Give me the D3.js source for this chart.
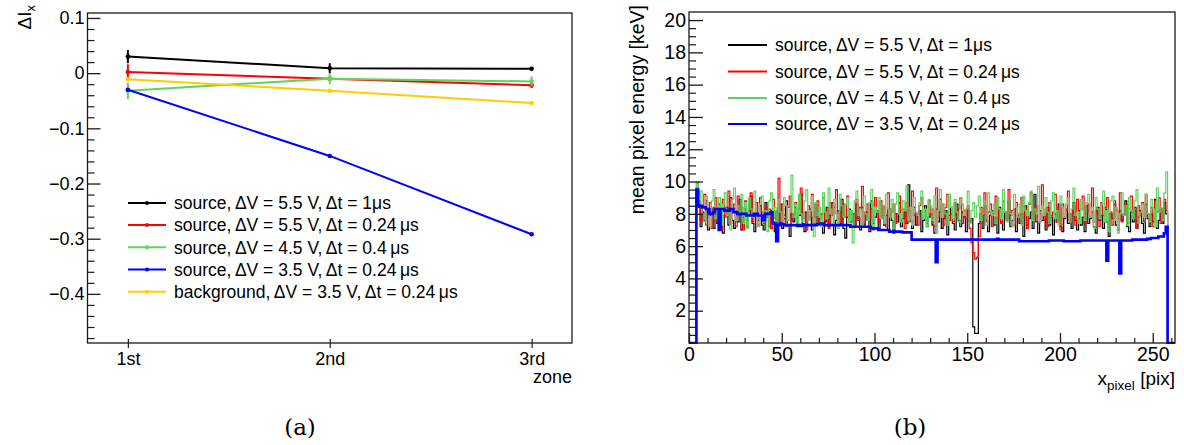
<!DOCTYPE html>
<html><head><meta charset="utf-8">
<script src="https://cdn.jsdelivr.net/npm/d3@7"></script>
<style>
html,body{margin:0;padding:0;background:#fff;}
svg text{font-family:"Liberation Sans",Arial,Helvetica,sans-serif;fill:#000;}
</style></head>
<body><svg id="c" width="1184" height="445"></svg>
<script>
// ---------- Panel (a) data ----------
const zones = ["1st", "2nd", "3rd"];
const zoneX = [1, 2, 3];
const legendA = [
  "source,\u2009\u0394V = 5.5 V,\u2009\u0394t = 1\u03bcs",
  "source,\u2009\u0394V = 5.5 V,\u2009\u0394t = 0.24\u2009\u03bcs",
  "source,\u2009\u0394V = 4.5 V,\u2009\u0394t = 0.4\u2009\u03bcs",
  "source,\u2009\u0394V = 3.5 V,\u2009\u0394t = 0.24\u2009\u03bcs",
  "background,\u2009\u0394V = 3.5 V,\u2009\u0394t = 0.24\u2009\u03bcs"
];
const colorsA = ["#000000", "#ff0000", "#5fd35f", "#0000ff", "#ffcc00"];
const dI_55_1 = [0.030, 0.009, 0.008];
const dI_55_1_err = [0.012, 0.009, 0.003];
const dI_55_024 = [0.002, -0.010, -0.022];
const dI_55_024_err = [0.014, 0.003, 0.005];
const dI_45_04 = [-0.032, -0.010, -0.015];
const dI_45_04_err = [0.015, 0.010, 0.009];
const dI_35_024 = [-0.030, -0.150, -0.292];
const dI_35_024_err = [0.002, 0.001, 0.001];
const dI_bkg = [-0.011, -0.032, -0.054];
const dI_bkg_err = [0.002, 0.001, 0.001];
const yTicksA = [-0.4, -0.3, -0.2, -0.1, 0, 0.1];

// ---------- Panel (b) data ----------
const legendB = [
  "source,\u2009\u0394V = 5.5 V,\u2009\u0394t = 1\u03bcs",
  "source,\u2009\u0394V = 5.5 V,\u2009\u0394t = 0.24\u2009\u03bcs",
  "source,\u2009\u0394V = 4.5 V,\u2009\u0394t = 0.4\u2009\u03bcs",
  "source,\u2009\u0394V = 3.5 V,\u2009\u0394t = 0.24\u2009\u03bcs"
];
const colorsB = ["#000000", "#ff0000", "#5fd35f", "#0000ff"];
const firstBin = 4;     // first filled pixel column
const xMaxB = 262;
const xTicksB = [0, 50, 100, 150, 200, 250];
const yTicksB = [2, 4, 6, 8, 10, 12, 14, 16, 18, 20];
const E_55_1 = [
9.6,8.4,7.2,8.1,7.6,8.8,7.0,7.9,8.3,7.1,
8.0,7.4,8.6,7.2,6.8,7.9,8.4,7.3,9.0,7.6,
7.1,8.2,7.5,8.9,7.0,7.8,8.3,7.2,7.9,9.1,
7.4,6.9,8.0,7.6,8.5,7.3,7.0,8.7,7.8,7.2,
8.2,7.5,6.9,8.1,7.4,8.6,7.1,7.7,8.8,7.3,
6.6,8.0,7.5,8.4,7.2,7.9,9.2,7.4,6.9,8.1,
7.6,8.3,7.0,7.8,8.6,7.3,7.7,8.0,6.8,7.5,
8.4,7.2,7.9,8.7,6.7,7.6,8.2,7.4,8.9,7.1,
6.5,7.8,8.3,7.5,8.0,7.2,8.6,7.7,7.0,8.4,
7.3,8.1,7.6,6.9,8.8,7.4,7.8,8.2,7.1,7.7,
8.5,7.3,7.9,7.0,8.3,7.6,6.8,8.0,7.5,8.7,
7.2,7.7,8.1,7.4,9.8,7.6,7.1,8.4,7.3,7.9,
8.2,6.9,7.6,8.5,7.2,7.8,8.0,7.3,6.8,8.3,
7.5,8.9,7.1,7.7,8.2,6.7,7.9,8.4,7.4,7.0,
8.6,7.6,7.2,8.1,7.8,6.9,8.3,7.5,7.7,1.0,
0.6,0.6,7.4,8.0,7.1,8.5,7.6,6.9,7.9,8.2,
7.3,7.8,6.8,8.4,7.5,7.0,8.1,7.7,8.8,7.2,
7.6,8.3,6.9,7.9,7.4,8.0,6.6,8.5,7.3,7.7,
8.1,7.1,9.2,7.5,6.8,8.2,7.6,7.9,7.0,8.4,
7.3,7.8,6.7,8.0,7.5,8.6,7.2,6.9,7.7,8.3,
7.4,8.0,7.1,8.7,7.6,7.0,8.2,7.3,7.8,6.9,
8.5,7.4,7.7,8.1,7.2,6.8,8.4,7.6,7.9,7.1,
8.3,7.5,6.6,8.0,7.7,8.6,7.3,7.0,8.2,7.6,
7.9,8.8,7.2,6.9,8.1,7.5,8.4,7.1,7.8,8.2,
7.4,6.8,8.6,7.7,7.2,8.0,7.5,8.9,7.1,7.6,
8.3,7.4,8.7,8.0];
const E_55_024 = [
9.9,8.8,7.6,8.5,9.2,7.3,8.0,8.7,7.1,8.4,
9.0,7.5,8.2,7.0,8.9,7.8,8.3,9.4,7.4,8.1,
8.6,7.2,9.1,7.9,8.4,7.0,8.8,7.6,8.2,9.3,
7.5,8.0,8.7,7.3,9.0,8.1,7.4,8.5,7.8,8.3,
7.1,8.9,7.7,8.2,10.2,7.5,8.6,7.9,7.2,8.4,
9.1,7.6,8.0,8.7,7.3,8.3,9.6,7.7,8.1,7.0,
8.5,7.8,9.2,7.4,8.2,8.8,7.5,8.0,9.0,7.6,
8.3,7.1,8.7,7.9,8.4,9.5,7.7,8.1,7.3,8.6,
7.8,9.1,7.5,8.2,8.0,7.2,8.9,7.6,8.4,9.7,
7.4,8.1,8.6,7.7,8.3,7.0,9.0,8.2,7.5,8.8,
7.9,8.4,7.2,9.3,7.8,8.1,8.6,7.4,8.0,9.1,
7.6,8.3,7.1,8.7,8.2,7.5,9.4,7.9,8.0,7.3,
8.5,9.0,7.7,8.2,7.4,8.8,7.9,8.3,7.2,9.6,
7.8,8.1,8.6,7.3,8.4,9.2,7.6,8.0,7.5,8.7,
7.9,8.3,9.0,7.4,8.2,7.7,8.5,7.1,6.2,5.6,
5.2,5.3,6.6,8.4,7.9,9.3,7.5,8.1,8.6,7.2,
8.0,9.1,7.7,8.3,7.4,8.8,8.1,7.6,9.5,7.9,
8.2,7.3,8.7,8.0,7.5,9.0,7.8,8.4,7.1,8.6,
9.3,7.7,8.2,8.5,7.4,8.0,9.8,7.6,8.3,7.2,
8.7,7.9,8.1,9.2,7.5,8.4,7.0,8.6,7.8,8.2,
9.4,7.6,8.0,8.5,7.3,8.9,7.7,8.3,9.1,7.4,
8.1,8.6,7.8,9.6,7.5,8.2,8.0,7.2,8.7,7.9,
8.4,9.0,7.6,8.1,7.3,8.8,8.2,7.7,9.3,7.5,
8.0,8.6,7.4,8.3,9.1,7.8,8.2,7.1,8.5,7.9,
8.7,7.5,9.2,8.0,7.6,8.4,7.2,8.8,8.1,9.0,
7.4,8.3,8.9,8.2];
const E_45_04 = [
10.0,8.7,9.4,8.0,7.5,9.1,8.3,7.2,8.8,9.5,
7.7,8.4,9.0,7.3,8.6,9.3,7.9,8.2,7.0,8.9,
9.6,7.6,8.5,8.1,9.2,7.4,8.7,7.1,9.0,8.3,
7.8,9.4,8.0,7.2,8.6,9.1,7.5,8.2,6.9,8.8,
9.3,7.7,8.4,7.0,8.9,8.1,7.4,9.0,8.5,7.6,
8.3,10.4,7.8,8.6,7.3,9.2,8.0,7.5,8.8,9.5,
7.6,8.2,9.1,6.6,8.7,7.9,8.4,7.2,9.3,8.1,
7.7,9.6,8.3,7.4,8.9,8.0,7.1,9.2,8.5,7.8,
8.6,9.0,7.5,8.2,6.2,8.8,9.4,7.9,8.3,7.3,
9.1,8.0,7.6,8.7,9.5,7.2,8.4,8.1,9.0,7.7,
8.5,7.4,9.2,8.3,7.8,8.9,7.1,8.6,9.3,8.0,
7.5,8.8,8.2,9.7,7.6,8.4,7.3,9.0,8.1,7.9,
8.7,9.4,7.7,8.3,7.2,8.9,8.5,7.6,9.1,6.8,
8.2,9.5,7.8,8.6,8.0,7.3,9.2,8.4,7.7,8.9,
8.1,7.5,9.0,8.6,7.9,8.3,9.4,7.4,8.2,8.7,
7.8,8.5,9.1,7.6,8.0,8.8,7.3,9.3,8.2,7.9,
8.6,7.4,9.0,8.3,7.7,9.5,8.1,7.5,8.8,8.0,
7.2,9.2,8.4,7.8,8.6,7.3,9.1,8.2,7.9,8.7,
9.4,7.6,8.3,8.0,9.7,7.5,8.5,7.9,9.0,8.1,
7.4,8.8,9.3,7.7,8.2,7.3,9.1,8.4,7.8,8.6,
9.0,7.5,8.3,9.6,7.9,8.1,7.4,8.9,8.2,7.6,
8.7,9.2,7.8,8.4,7.1,9.0,8.3,7.7,8.6,9.4,
7.5,8.2,6.9,8.8,9.1,7.6,8.4,6.8,8.0,9.3,
7.9,8.5,7.3,9.0,8.2,7.7,8.8,9.5,7.4,8.1,
8.6,7.8,9.2,8.0,7.5,8.9,8.3,7.2,9.6,8.1,
8.4,7.6,9.3,10.6];
const E_35_024 = [
9.5,8.5,8.5,8.4,8.4,8.3,8.3,8.0,8.0,8.1,
8.3,8.3,7.0,8.3,8.3,8.2,8.2,8.2,8.3,8.3,
8.1,8.1,8.0,8.0,8.0,8.0,8.0,7.9,7.9,7.9,
7.9,8.0,8.0,7.9,7.9,7.9,7.6,8.0,8.0,8.0,
8.1,7.4,7.4,6.3,7.3,7.4,7.35,7.3,7.3,7.3,
7.3,7.3,7.3,7.3,7.3,7.3,7.25,7.3,7.3,7.3,
7.3,7.3,7.3,7.3,7.3,7.35,7.35,7.4,7.35,7.3,
7.3,7.3,7.3,7.3,7.3,7.3,7.3,7.3,7.3,7.3,
7.3,7.3,7.3,7.2,7.2,7.2,7.2,7.2,7.2,7.2,
7.2,7.2,7.2,7.2,7.1,7.1,7.1,7.1,7.0,7.0,
7.0,7.0,7.0,7.0,6.9,6.9,6.9,6.9,6.9,6.9,
6.9,6.85,6.85,6.85,6.85,6.85,6.4,6.4,6.4,6.4,
6.4,6.4,6.4,6.4,6.4,6.4,6.4,6.4,6.4,5.0,
6.4,6.4,6.4,6.4,6.4,6.4,6.4,6.4,6.4,6.4,
6.4,6.4,6.4,6.4,6.4,6.4,6.4,6.4,6.4,6.4,
6.4,6.4,6.4,6.4,6.4,6.4,6.4,6.4,6.4,6.4,
6.4,6.4,6.45,6.4,6.4,6.4,6.4,6.4,6.4,6.4,
6.4,6.4,6.4,6.4,6.3,6.3,6.3,6.3,6.3,6.3,
6.3,6.3,6.3,6.3,6.3,6.3,6.3,6.3,6.3,6.3,
6.35,6.35,6.35,6.35,6.35,6.35,6.35,6.35,6.3,6.3,
6.3,6.3,6.3,6.3,6.3,6.3,6.3,6.35,6.35,6.35,
6.35,6.35,6.35,6.35,6.35,6.35,6.35,6.35,6.35,6.35,
6.35,5.1,6.35,6.35,6.35,6.35,6.35,6.35,4.3,6.35,
6.35,6.35,6.35,6.35,6.35,6.4,6.4,6.4,6.4,6.4,
6.4,6.4,6.4,6.45,6.45,6.5,6.5,6.5,6.5,6.6,
6.6,6.6,6.8,7.2];

// ---------- drawing ----------
const svg = d3.select("#c");
const FRAME = "#1a1a1a";
const SANS = "Liberation Sans, Arial, sans-serif";

// ===== Panel (a) =====
const A = {x0: 87.5, x1: 572, y0: 13, y1: 343};
const xA = d3.scaleLinear().domain([0.8, 3.2]).range([A.x0, A.x1]);
const yA = d3.scaleLinear().domain([-0.489, 0.109]).range([A.y1, A.y0]);
const gA = svg.append("g");

gA.append("rect").attr("x", A.x0).attr("y", A.y0).attr("width", A.x1 - A.x0).attr("height", A.y1 - A.y0)
  .attr("fill", "none").attr("stroke", FRAME).attr("stroke-width", 1.3);

const minorA = d3.range(-0.48, 0.1001, 0.02).filter(v => Math.abs(v * 10 - Math.round(v * 10)) > 1e-6);
gA.append("g").attr("transform", `translate(${A.x0},0)`)
  .call(d3.axisLeft(yA).tickValues(minorA).tickSize(-7).tickFormat(""))
  .call(g => { g.select(".domain").remove(); g.selectAll("line").attr("stroke", FRAME).attr("stroke-width", 1.2); });
const fmtA = v => Math.abs(v) < 1e-9 ? "0" : d3.format(".1f")(v);
gA.append("g").attr("transform", `translate(${A.x0},0)`)
  .call(d3.axisLeft(yA).tickValues(yTicksA).tickSize(-13).tickPadding(3).tickFormat(fmtA))
  .call(g => {
    g.select(".domain").remove();
    g.selectAll("line").attr("stroke", FRAME).attr("stroke-width", 1.3);
    g.selectAll("text").attr("font-size", 18).attr("font-family", SANS).attr("fill", "#000");
  });
gA.append("g").attr("transform", `translate(0,${A.y1})`)
  .call(d3.axisBottom(xA).tickValues(zoneX).tickSize(0).tickPadding(9).tickFormat((d, i) => zones[i]))
  .call(g => {
    g.select(".domain").remove();
    g.selectAll("text").attr("font-size", 18).attr("font-family", SANS).attr("fill", "#000");
    g.selectAll(".tick").append("line").attr("y1", -4).attr("y2", 5).attr("stroke", FRAME).attr("stroke-width", 1.2);
  });
gA.append("text").attr("x", A.x1).attr("y", 383).attr("text-anchor", "end").attr("font-size", 18).text("zone");
const ytA = gA.append("text").attr("transform", "translate(31,5) rotate(-90)").attr("text-anchor", "end").attr("font-size", 19);
ytA.append("tspan").text("\u0394I");
ytA.append("tspan").attr("font-size", 13).attr("dy", 4).text("x");

const seriesA = [
  {v: dI_55_1, e: dI_55_1_err},
  {v: dI_55_024, e: dI_55_024_err},
  {v: dI_45_04, e: dI_45_04_err},
  {v: dI_35_024, e: dI_35_024_err},
  {v: dI_bkg, e: dI_bkg_err}
];
const lineA = d3.line().x((d, i) => xA(zoneX[i])).y(d => yA(d));
seriesA.forEach((s, k) => {
  const c = colorsA[k];
  gA.append("path").attr("d", lineA(s.v)).attr("fill", "none").attr("stroke", c).attr("stroke-width", 2);
  s.v.forEach((v, i) => {
    gA.append("line").attr("x1", xA(zoneX[i])).attr("x2", xA(zoneX[i]))
      .attr("y1", yA(v - s.e[i])).attr("y2", yA(v + s.e[i])).attr("stroke", c).attr("stroke-width", 2);
    gA.append("circle").attr("cx", xA(zoneX[i])).attr("cy", yA(v)).attr("r", 2.3).attr("fill", c);
  });
});
const legAy = [203, 225, 247.3, 269.5, 291.7];
legendA.forEach((t, k) => {
  const y = legAy[k];
  gA.append("line").attr("x1", 128).attr("x2", 166).attr("y1", y).attr("y2", y).attr("stroke", colorsA[k]).attr("stroke-width", 2);
  gA.append("circle").attr("cx", 147).attr("cy", y).attr("r", 2).attr("fill", colorsA[k]);
  gA.append("text").attr("x", 174).attr("y", y + 6.3).attr("font-size", 17.5).text(t);
});
svg.append("text").attr("x", 300).attr("y", 435).attr("text-anchor", "middle")
  .attr("font-size", 23).style("font-family", "'DejaVu Serif','Liberation Serif',serif").text("(a)");

// ===== Panel (b) =====
const B = {x0: 689, x1: 1175, y0: 12, y1: 343};
const xB = d3.scaleLinear().domain([0, xMaxB]).range([B.x0, B.x1]);
const yB = d3.scaleLinear().domain([0, 20.5]).range([B.y1, B.y0]);
const gB = svg.append("g");
const clip = svg.append("defs").append("clipPath").attr("id", "clipB");
clip.append("rect").attr("x", B.x0).attr("y", B.y0).attr("width", B.x1 - B.x0).attr("height", B.y1 - B.y0 + 1);

function histPath(vals) {
  let d = `M${xB(0)},${yB(0)}H${xB(firstBin)}`;
  vals.forEach((v, i) => { d += `V${yB(v)}H${xB(firstBin + i + 1)}`; });
  d += `V${yB(0)}H${xB(xMaxB)}`;
  return d;
}
const seriesB = [E_55_1, E_55_024, E_45_04, E_35_024];
const widthsB = [1.2, 1.2, 1.2, 2.6];
const gH = gB.append("g").attr("clip-path", "url(#clipB)");
seriesB.forEach((s, k) => {
  gH.append("path").attr("d", histPath(s)).attr("fill", "none").attr("stroke", colorsB[k])
    .attr("stroke-width", widthsB[k]).attr("stroke-linejoin", "miter");
});

gB.append("rect").attr("x", B.x0).attr("y", B.y0).attr("width", B.x1 - B.x0).attr("height", B.y1 - B.y0)
  .attr("fill", "none").attr("stroke", FRAME).attr("stroke-width", 1.3);

const minorBy = d3.range(0.5, 20.5, 0.5).filter(v => v % 2 !== 0);
gB.append("g").attr("transform", `translate(${B.x0},0)`)
  .call(d3.axisLeft(yB).tickValues(minorBy).tickSize(-7).tickFormat(""))
  .call(g => { g.select(".domain").remove(); g.selectAll("line").attr("stroke", FRAME).attr("stroke-width", 1.2); });
gB.append("g").attr("transform", `translate(${B.x0},0)`)
  .call(d3.axisLeft(yB).tickValues(yTicksB).tickSize(-14).tickPadding(3))
  .call(g => {
    g.select(".domain").remove();
    g.selectAll("line").attr("stroke", FRAME).attr("stroke-width", 1.3);
    g.selectAll("text").attr("font-size", 19.5).attr("font-family", SANS).attr("fill", "#000");
  });
const minorBx = d3.range(10, 262, 10).filter(v => v % 50 !== 0);
gB.append("g").attr("transform", `translate(0,${B.y1})`)
  .call(d3.axisBottom(xB).tickValues(minorBx).tickSize(-5).tickFormat(""))
  .call(g => { g.select(".domain").remove(); g.selectAll("line").attr("stroke", FRAME).attr("stroke-width", 1.2); });
gB.append("g").attr("transform", `translate(0,${B.y1})`)
  .call(d3.axisBottom(xB).tickValues(xTicksB).tickSize(-10).tickPadding(4))
  .call(g => {
    g.select(".domain").remove();
    g.selectAll("line").attr("stroke", FRAME).attr("stroke-width", 1.3);
    g.selectAll("text").attr("font-size", 19.5).attr("font-family", SANS).attr("fill", "#000");
  });
const xtB = gB.append("text").attr("x", B.x1).attr("y", 385).attr("text-anchor", "end").attr("font-size", 19);
xtB.append("tspan").text("x");
xtB.append("tspan").attr("font-size", 13.5).attr("dy", 5).text("pixel");
xtB.append("tspan").attr("dy", -5).text(" [pix]");
gB.append("text").attr("transform", "translate(644,5) rotate(-90)").attr("text-anchor", "end")
  .attr("font-size", 19.5).text("mean pixel energy [keV]");

const legBy = [45, 71.5, 98, 124];
legendB.forEach((t, k) => {
  const y = legBy[k];
  gB.append("line").attr("x1", 728).attr("x2", 767).attr("y1", y).attr("y2", y).attr("stroke", colorsB[k]).attr("stroke-width", 2);
  gB.append("text").attr("x", 775).attr("y", y + 6.3).attr("font-size", 17.5).text(t);
});
svg.append("text").attr("x", 910).attr("y", 435).attr("text-anchor", "middle")
  .attr("font-size", 23).style("font-family", "'DejaVu Serif','Liberation Serif',serif").text("(b)");
</script>
</body></html>
